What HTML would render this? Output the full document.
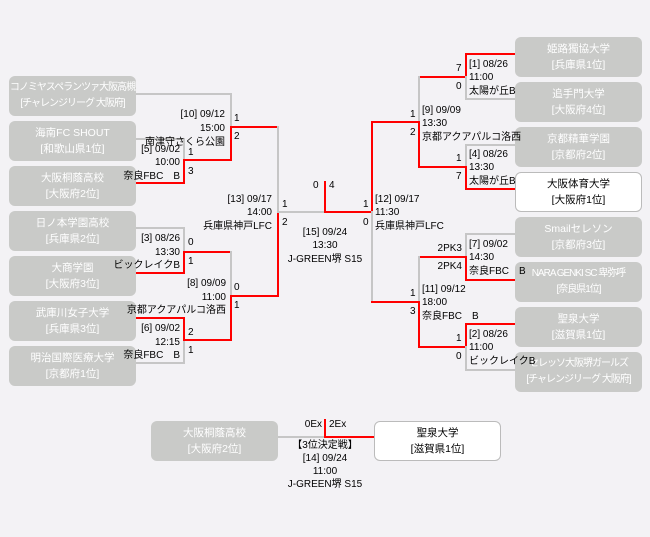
<!DOCTYPE html>
<html><head><meta charset="utf-8"><style>
body{margin:0;width:650px;height:537px;background:#f3f2f5;position:relative;overflow:hidden;font-family:"Liberation Sans","Noto Sans CJK JP",sans-serif;}
.b{position:absolute;width:127px;height:40px;background:#c9cac8;border-radius:6px;color:#fff;font-size:10.5px;line-height:16px;text-align:center;box-sizing:border-box;padding-top:4px;white-space:nowrap;overflow:hidden}
.n{letter-spacing:-1px;font-size:10px}
.w{background:#fff;color:#000;border:1px solid #bbb;padding-top:3px}
.h,.v{position:absolute;background:#c6c6c6}
.h{height:2px}.v{width:2px}
.r{background:#f00}
.t{position:absolute;font-size:10px;line-height:13px;color:#000;white-space:nowrap}
.R{text-align:right}
.C{text-align:center}
</style></head><body>

<div class="b n" style="left:9px;top:76px">コノミヤスペランツァ大阪高槻<br>[チャレンジリーグ 大阪府]</div>
<div class="b" style="left:9px;top:121px">海南FC SHOUT<br>[和歌山県1位]</div>
<div class="b" style="left:9px;top:166px">大阪桐蔭高校<br>[大阪府2位]</div>
<div class="b" style="left:9px;top:211px">日ノ本学園高校<br>[兵庫県2位]</div>
<div class="b" style="left:9px;top:256px">大商学園<br>[大阪府3位]</div>
<div class="b" style="left:9px;top:301px">武庫川女子大学<br>[兵庫県3位]</div>
<div class="b" style="left:9px;top:346px">明治国際医療大学<br>[京都府1位]</div>

<div class="b" style="left:515px;top:37px">姫路獨協大学<br>[兵庫県1位]</div>
<div class="b" style="left:515px;top:82px">追手門大学<br>[大阪府4位]</div>
<div class="b" style="left:515px;top:127px">京都精華学園<br>[京都府2位]</div>
<div class="b w" style="left:515px;top:172px">大阪体育大学<br>[大阪府1位]</div>
<div class="b" style="left:515px;top:217px">Smailセレソン<br>[京都府3位]</div>
<div class="b n" style="left:515px;top:262px">NARA GENKI SC 卑弥呼<br>[奈良県1位]</div>
<div class="b" style="left:515px;top:307px">聖泉大学<br>[滋賀県1位]</div>
<div class="b n" style="left:515px;top:352px">セレッソ大阪堺ガールズ<br>[チャレンジリーグ 大阪府]</div>

<div class="b" style="left:151px;top:421px">大阪桐蔭高校<br>[大阪府2位]</div>
<div class="b w" style="left:374px;top:421px">聖泉大学<br>[滋賀県1位]</div>

<!-- left lines -->
<div class="h" style="left:136px;top:93px;width:96px"></div>
<div class="v" style="left:230px;top:93px;height:35px"></div>
<div class="h" style="left:136px;top:138px;width:49px"></div>
<div class="v" style="left:183px;top:138px;height:23px"></div>
<div class="v r" style="left:183px;top:160px;height:24px"></div>
<div class="h r" style="left:136px;top:182px;width:49px"></div>
<div class="h r" style="left:183px;top:159px;width:49px"></div>
<div class="v r" style="left:230px;top:126px;height:35px"></div>
<div class="h r" style="left:230px;top:126px;width:49px"></div>

<div class="h" style="left:136px;top:227px;width:49px"></div>
<div class="v" style="left:183px;top:227px;height:25px"></div>
<div class="v r" style="left:183px;top:251px;height:23px"></div>
<div class="h r" style="left:136px;top:272px;width:49px"></div>
<div class="h r" style="left:183px;top:251px;width:49px"></div>
<div class="h r" style="left:136px;top:317px;width:49px"></div>
<div class="v r" style="left:183px;top:317px;height:23px"></div>
<div class="v" style="left:183px;top:339px;height:25px"></div>
<div class="h" style="left:136px;top:362px;width:49px"></div>
<div class="h r" style="left:183px;top:339px;width:49px"></div>
<div class="v" style="left:230px;top:251px;height:45px"></div>
<div class="v r" style="left:230px;top:295px;height:46px"></div>
<div class="h r" style="left:230px;top:295px;width:49px"></div>

<div class="v" style="left:277px;top:126px;height:86px"></div>
<div class="v r" style="left:277px;top:211px;height:86px"></div>
<div class="h" style="left:277px;top:211px;width:49px"></div>
<div class="v r" style="left:324px;top:181px;height:32px"></div>
<div class="h r" style="left:324px;top:211px;width:49px"></div>

<!-- right lines -->
<div class="v r" style="left:371px;top:121px;height:92px"></div>
<div class="v" style="left:371px;top:211px;height:92px"></div>
<div class="h r" style="left:371px;top:121px;width:49px"></div>
<div class="h r" style="left:371px;top:301px;width:49px"></div>

<div class="h r" style="left:418px;top:76px;width:49px"></div>
<div class="v" style="left:418px;top:76px;height:46px"></div>
<div class="v r" style="left:418px;top:121px;height:47px"></div>
<div class="h r" style="left:418px;top:166px;width:49px"></div>
<div class="h r" style="left:465px;top:53px;width:50px"></div>
<div class="v r" style="left:465px;top:53px;height:24px"></div>
<div class="v" style="left:465px;top:76px;height:24px"></div>
<div class="h" style="left:465px;top:98px;width:50px"></div>
<div class="h" style="left:465px;top:144px;width:50px"></div>
<div class="v" style="left:465px;top:144px;height:23px"></div>
<div class="v r" style="left:465px;top:166px;height:24px"></div>
<div class="h r" style="left:465px;top:188px;width:50px"></div>

<div class="h r" style="left:418px;top:256px;width:49px"></div>
<div class="v" style="left:418px;top:256px;height:46px"></div>
<div class="v r" style="left:418px;top:301px;height:47px"></div>
<div class="h r" style="left:418px;top:346px;width:49px"></div>
<div class="h" style="left:465px;top:233px;width:50px"></div>
<div class="v" style="left:465px;top:233px;height:24px"></div>
<div class="v r" style="left:465px;top:256px;height:24px"></div>
<div class="h r" style="left:465px;top:279px;width:50px"></div>
<div class="h r" style="left:465px;top:323px;width:50px"></div>
<div class="v r" style="left:465px;top:323px;height:24px"></div>
<div class="v" style="left:465px;top:346px;height:24px"></div>
<div class="h" style="left:465px;top:369px;width:50px"></div>

<!-- third place -->
<div class="h" style="left:278px;top:436px;width:48px"></div>
<div class="v r" style="left:324px;top:419px;height:19px"></div>
<div class="h r" style="left:324px;top:436px;width:50px"></div>

<!-- left texts -->
<div class="t R" style="right:425px;top:108px">[10] 09/12</div>
<div class="t R" style="right:425px;top:122px">15:00</div>
<div class="t R" style="right:425px;top:136px">南津守さくら公園</div>
<div class="t" style="left:234px;top:112px">1</div>
<div class="t" style="left:234px;top:130px">2</div>
<div class="t R" style="right:470px;top:143px">[5] 09/02</div>
<div class="t R" style="right:470px;top:156px">10:00</div>
<div class="t R" style="right:470px;top:170px">奈良FBC　B</div>
<div class="t" style="left:188px;top:146px">1</div>
<div class="t" style="left:188px;top:165px">3</div>
<div class="t R" style="right:378px;top:193px">[13] 09/17</div>
<div class="t R" style="right:378px;top:206px">14:00</div>
<div class="t R" style="right:378px;top:220px">兵庫県神戸LFC</div>
<div class="t" style="left:282px;top:198px">1</div>
<div class="t" style="left:282px;top:216px">2</div>
<div class="t R" style="right:470px;top:232px">[3] 08/26</div>
<div class="t R" style="right:470px;top:246px">13:30</div>
<div class="t R" style="right:470px;top:259px">ビックレイクB</div>
<div class="t" style="left:188px;top:236px">0</div>
<div class="t" style="left:188px;top:255px">1</div>
<div class="t R" style="right:424px;top:277px">[8] 09/09</div>
<div class="t R" style="right:424px;top:291px">11:00</div>
<div class="t R" style="right:424px;top:304px">京都アクアパルコ洛西</div>
<div class="t" style="left:234px;top:281px">0</div>
<div class="t" style="left:234px;top:299px">1</div>
<div class="t R" style="right:470px;top:322px">[6] 09/02</div>
<div class="t R" style="right:470px;top:336px">12:15</div>
<div class="t R" style="right:470px;top:349px">奈良FBC　B</div>
<div class="t" style="left:188px;top:326px">2</div>
<div class="t" style="left:188px;top:344px">1</div>

<!-- center -->
<div class="t" style="left:313px;top:179px">0</div>
<div class="t" style="left:329px;top:179px">4</div>
<div class="t" style="left:363px;top:198px">1</div>
<div class="t" style="left:363px;top:216px">0</div>
<div class="t C" style="left:275px;width:100px;top:226px">[15] 09/24</div>
<div class="t C" style="left:275px;width:100px;top:239px">13:30</div>
<div class="t C" style="left:275px;width:100px;top:253px">J-GREEN堺 S15</div>

<!-- right texts -->
<div class="t" style="left:375px;top:193px">[12] 09/17</div>
<div class="t" style="left:375px;top:206px">11:30</div>
<div class="t" style="left:375px;top:220px">兵庫県神戸LFC</div>
<div class="t" style="left:422px;top:104px">[9] 09/09</div>
<div class="t" style="left:422px;top:117px">13:30</div>
<div class="t" style="left:422px;top:131px">京都アクアパルコ洛西</div>
<div class="t" style="left:410px;top:108px">1</div>
<div class="t" style="left:410px;top:126px">2</div>
<div class="t" style="left:469px;top:58px">[1] 08/26</div>
<div class="t" style="left:469px;top:71px">11:00</div>
<div class="t" style="left:469px;top:85px">太陽が丘B</div>
<div class="t" style="left:456px;top:62px">7</div>
<div class="t" style="left:456px;top:80px">0</div>
<div class="t" style="left:469px;top:148px">[4] 08/26</div>
<div class="t" style="left:469px;top:161px">13:30</div>
<div class="t" style="left:469px;top:175px">太陽が丘B</div>
<div class="t" style="left:456px;top:152px">1</div>
<div class="t" style="left:456px;top:170px">7</div>
<div class="t" style="left:469px;top:238px">[7] 09/02</div>
<div class="t" style="left:469px;top:251px">14:30</div>
<div class="t" style="left:469px;top:265px">奈良FBC　B</div>
<div class="t R" style="right:188px;top:242px">2PK3</div>
<div class="t R" style="right:188px;top:260px">2PK4</div>
<div class="t" style="left:422px;top:283px">[11] 09/12</div>
<div class="t" style="left:422px;top:296px">18:00</div>
<div class="t" style="left:422px;top:310px">奈良FBC　B</div>
<div class="t" style="left:410px;top:287px">1</div>
<div class="t" style="left:410px;top:305px">3</div>
<div class="t" style="left:469px;top:328px">[2] 08/26</div>
<div class="t" style="left:469px;top:341px">11:00</div>
<div class="t" style="left:469px;top:355px">ビックレイクB</div>
<div class="t" style="left:456px;top:332px">1</div>
<div class="t" style="left:456px;top:350px">0</div>

<!-- third place texts -->
<div class="t R" style="right:328px;top:418px">0Ex</div>
<div class="t" style="left:329px;top:418px">2Ex</div>
<div class="t C" style="left:265px;width:120px;top:439px">【3位決定戦】</div>
<div class="t C" style="left:265px;width:120px;top:452px">[14] 09/24</div>
<div class="t C" style="left:265px;width:120px;top:465px">11:00</div>
<div class="t C" style="left:265px;width:120px;top:478px">J-GREEN堺 S15</div>

</body></html>
